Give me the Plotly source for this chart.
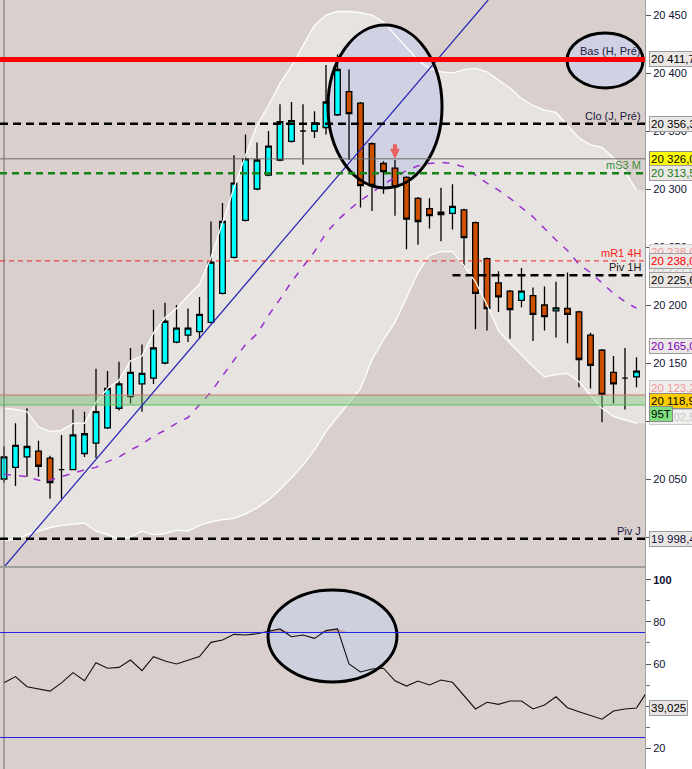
import plotly.graph_objects as go

FONT = "Liberation Sans, Arial, sans-serif"

# ---------------- data ----------------
candle_idx = list(range(56))
opens = [20050, 20060, 20069, 20074, 20068, 20058, 20058, 20072, 20081, 20094,
         20111, 20121, 20132, 20137, 20150, 20168, 20174, 20177, 20185, 20210,
         20241, 20273, 20300, 20312, 20325, 20341, 20350, 20350, 20353, 20364,
         20384, 20374, 20339, 20322, 20318, 20310, 20292, 20283, 20280, 20279,
         20282, 20271, 20240, 20219, 20212, 20204, 20208, 20200, 20195, 20197,
         20194, 20174, 20161, 20142, 20137, 20138]
highs = [20078, 20098, 20111, 20083, 20070, 20088, 20110, 20108, 20145, 20143,
         20151, 20163, 20166, 20196, 20202, 20200, 20197, 20207, 20272, 20288,
         20329, 20347, 20340, 20350, 20373, 20375, 20373, 20367, 20407, 20416,
         20403, 20375, 20340, 20324, 20325, 20311, 20293, 20292, 20301, 20304,
         20283, 20272, 20241, 20229, 20213, 20232, 20215, 20216, 20220, 20228,
         20195, 20176, 20162, 20156, 20163, 20155]
lows = [20047, 20044, 20052, 20052, 20033, 20033, 20058, 20069, 20068, 20093,
        20109, 20115, 20108, 20132, 20149, 20167, 20168, 20171, 20184, 20209,
        20240, 20272, 20299, 20311, 20324, 20340, 20321, 20344, 20347, 20363,
        20325, 20284, 20281, 20296, 20277, 20248, 20252, 20266, 20255, 20265,
        20233, 20179, 20178, 20194, 20171, 20198, 20169, 20178, 20172, 20167,
        20129, 20128, 20099, 20115, 20110, 20129]
closes = [20069, 20079, 20078, 20061, 20047, 20058, 20088, 20089, 20108, 20128,
          20132, 20142, 20141, 20163, 20186, 20180, 20180, 20192, 20237, 20272,
          20305, 20326, 20325, 20337, 20358, 20359, 20350, 20357, 20375, 20403,
          20365, 20303, 20303, 20315, 20302, 20274, 20272, 20277, 20278, 20285,
          20258, 20210, 20197, 20207, 20196, 20212, 20192, 20190, 20197.5, 20192,
          20153, 20148, 20123, 20132, 20137, 20143]

bb_upper = [20111, 20110, 20108, 20095, 20091, 20092, 20098, 20098, 20116, 20128,
            20135, 20152, 20156, 20176, 20189, 20197, 20208, 20218, 20241, 20272,
            20301, 20329, 20355, 20372, 20391, 20406, 20424, 20441, 20450, 20453,
            20453, 20452, 20450, 20444, 20433, 20422, 20411, 20404, 20401, 20400,
            20403, 20404, 20401, 20394, 20387, 20378, 20372, 20368, 20366, 20355,
            20344, 20338, 20336, 20327, 20315, 20299]
bb_mid = [20054, 20053, 20052, 20049, 20049, 20052, 20055, 20058, 20060, 20065,
          20069, 20075, 20080, 20087, 20092, 20098, 20103, 20114, 20125, 20139,
          20152, 20166, 20175, 20191, 20205, 20220, 20233, 20246, 20262, 20273,
          20282, 20290, 20297, 20304, 20310, 20316, 20320, 20322, 20323, 20322,
          20319, 20312, 20305, 20299, 20292, 20284, 20276, 20266, 20256, 20247,
          20235, 20228, 20219, 20210, 20203, 20197]
bb_lower = [19997, 19998, 20002, 20005, 20008, 20010, 20011, 20012, 20005, 20002,
            19998, 20000, 20005, 20002, 20003, 20006, 20005, 20010, 20013, 20015,
            20016, 20020, 20025, 20032, 20041, 20051, 20062, 20075, 20091, 20103,
            20115, 20128, 20153, 20170, 20185, 20206, 20228, 20243, 20246, 20246,
            20234, 20220, 20200, 20178, 20167, 20157, 20147, 20138, 20140, 20141,
            20134, 20122, 20111, 20104, 20101, 20098]

osc_idx = list(range(57))
osc = [51.1, 54.0, 49.2, 48.1, 47.1, 51.0, 55.9, 52.0, 60.6, 58.0,
       58.4, 61.9, 56.8, 63.5, 61.4, 60.0, 61.9, 63.5, 70.3, 71.4,
       74.1, 73.8, 74.4, 75.4, 76.7, 73.0, 73.8, 72.2, 75.9, 76.7,
       60.0, 56.2, 57.6, 58.0, 52.0, 49.5, 51.9, 50.0, 52.4, 51.3,
       44.8, 38.6, 41.8, 40.8, 42.4, 42.4, 38.6, 40.5, 44.4, 39.2,
       37.3, 35.4, 33.7, 37.6, 38.6, 39.025, 47.5]
osc_upper_level = 75
osc_lower_level = 25

price_ticks = [20000, 20050, 20100, 20150, 20200, 20250, 20300, 20350, 20400, 20450]
price_tick_labels = ["20 000", "20 050", "20 100", "20 150", "20 200",
                     "20 250", "20 300", "20 350", "20 400", "20 450"]
osc_ticks = [20, 40, 60, 80, 100]
osc_tick_labels = ["20", "40", "60", "80", "<b>100</b>"]

lvl_bas_h = 20411.7
lvl_clo_j = 20356.3
lvl_last = 20326.0
lvl_ms3 = 20313.5
lvl_mr1 = 20238.0
lvl_piv1h = 20225.6
lvl_zone_top = 20122.4
lvl_zone_bot = 20113.8
lvl_pivj = 19998.4

# ---------------- colours / ranges ----------------
BG_DARK = "#d9d0cd"
BG_BAND = "#e7e3e0"
LAV = "#d0d1e2"
X_RANGE = [-0.348, 55.74]
Y_RANGE = [19975.0, 20462.93]
Y2_RANGE = [10.0, 105.71]

E1 = (28.17, 38.09, 20300.9, 20441.4)
E2 = (48.96, 55.57, 20387.1, 20434.5)
E3 = (22.96, 34.17, 51.43, 95.24)

fig = go.Figure()
nohover = dict(hoverinfo="skip", showlegend=False)

# candles
fig.add_trace(go.Candlestick(
    x=candle_idx, open=opens, high=highs, low=lows, close=closes,
    increasing=dict(fillcolor="#00ffff", line=dict(color="black", width=1.3)),
    decreasing=dict(fillcolor="#cc5000", line=dict(color="black", width=1.3)),
    whiskerwidth=0, hoverinfo="skip", showlegend=False))
# band lines
fig.add_trace(go.Scatter(x=candle_idx, y=bb_upper, mode="lines",
                         line=dict(color="white", width=1.3), **nohover))
fig.add_trace(go.Scatter(x=candle_idx, y=bb_lower, mode="lines",
                         line=dict(color="white", width=1.3), **nohover))
# moving average
fig.add_trace(go.Scatter(x=candle_idx, y=bb_mid, mode="lines",
                         line=dict(color="#9a30d0", width=1.5, dash="7px,8px"), **nohover))

# ---- lower panel ----
fig.add_trace(go.Scatter(x=osc_idx, y=[osc_upper_level] * len(osc_idx), mode="lines",
                         line=dict(width=0, color="rgba(0,0,0,0)"),
                         xaxis="x2", yaxis="y2", **nohover))
fig.add_trace(go.Scatter(x=osc_idx, y=[max(v, osc_upper_level) for v in osc], mode="lines",
                         line=dict(width=0, color="rgba(0,0,0,0)"), fill="tonexty",
                         fillcolor="#c9a3a3", xaxis="x2", yaxis="y2", **nohover))
fig.add_trace(go.Scatter(x=osc_idx, y=osc, mode="lines",
                         line=dict(color="#111111", width=1.1),
                         xaxis="x2", yaxis="y2", **nohover))

# ---------------- shapes ----------------
shapes = []
# Bollinger band interior as a path below the traces (fill carried to the plot edges)
pts_up = ([f"{X_RANGE[0]},{bb_upper[0]}"] +
          [f"{i},{v}" for i, v in zip(candle_idx, bb_upper)] +
          [f"{X_RANGE[1]},{bb_upper[-1]}"])
pts_lo = ([f"{X_RANGE[1]},{bb_lower[-1]}"] +
          [f"{i},{v}" for i, v in zip(candle_idx[::-1], bb_lower[::-1])] +
          [f"{X_RANGE[0]},{bb_lower[0]}"])
band_path = "M " + " L ".join(pts_up + pts_lo) + " Z"
shapes.append(dict(type="path", xref="x", yref="y", path=band_path,
                   fillcolor=BG_BAND, line=dict(width=0), layer="below"))
for e in (E1, E2):
    shapes.append(dict(type="circle", xref="x", yref="y", x0=e[0], x1=e[1], y0=e[2], y1=e[3],
                       fillcolor=LAV, line=dict(width=0), layer="below"))
shapes.append(dict(type="circle", xref="x2", yref="y2", x0=E3[0], x1=E3[1], y0=E3[2], y1=E3[3],
                   fillcolor="#cfd0de", line=dict(width=0), layer="below"))
# session separator
shapes.append(dict(type="line", xref="x", yref="y domain", x0=0, x1=0, y0=0, y1=1,
                   line=dict(color="#6a6a6a", width=1), layer="above"))
shapes.append(dict(type="line", xref="x2", yref="y2 domain", x0=0, x1=0, y0=0, y1=1,
                   line=dict(color="#6a6a6a", width=1), layer="above"))
# green zone
shapes.append(dict(type="rect", xref="x domain", yref="y", x0=0, x1=1,
                   y0=lvl_zone_bot, y1=lvl_zone_top, fillcolor="rgba(110,200,110,0.38)",
                   line=dict(width=0), layer="above"))
shapes.append(dict(type="line", xref="x domain", yref="y", x0=0, x1=1,
                   y0=lvl_zone_top, y1=lvl_zone_top, line=dict(color="#d27070", width=1)))
shapes.append(dict(type="line", xref="x domain", yref="y", x0=0, x1=1,
                   y0=lvl_zone_bot, y1=lvl_zone_bot, line=dict(color="#5cc05c", width=1)))
# trend line
shapes.append(dict(type="line", xref="x", yref="y", x0=0.087, y0=Y_RANGE[0],
                   x1=42.1, y1=Y_RANGE[1], line=dict(color="#2424b4", width=1.2)))
# ellipse outlines
for e in (E1, E2):
    shapes.append(dict(type="circle", xref="x", yref="y", x0=e[0], x1=e[1], y0=e[2], y1=e[3],
                       line=dict(color="black", width=3), fillcolor="rgba(0,0,0,0)"))
shapes.append(dict(type="circle", xref="x2", yref="y2", x0=E3[0], x1=E3[1], y0=E3[2], y1=E3[3],
                   line=dict(color="black", width=3), fillcolor="rgba(0,0,0,0)"))

def hline(y, color, width, dash="solid", x0=None):
    if x0 is None:
        return dict(type="line", xref="x domain", yref="y", x0=0, x1=1, y0=y, y1=y,
                    line=dict(color=color, width=width, dash=dash))
    return dict(type="line", xref="x", yref="y", x0=x0, x1=X_RANGE[1], y0=y, y1=y,
                line=dict(color=color, width=width, dash=dash))

shapes.append(hline(lvl_last, "#6c6c6c", 1))
shapes.append(hline(lvl_mr1, "#ee2020", 1, "5px,4px"))
shapes.append(hline(lvl_clo_j, "black", 2.5, "8px,5px"))
shapes.append(hline(lvl_ms3, "#178417", 2.5, "7px,5px"))
shapes.append(hline(lvl_piv1h, "black", 2.5, "8px,5px", x0=39.0))
shapes.append(hline(lvl_pivj, "black", 2.5, "8px,5px"))
shapes.append(hline(lvl_bas_h, "#ff0000", 5))
for lv in (osc_upper_level, osc_lower_level):
    shapes.append(dict(type="line", xref="x2 domain", yref="y2", x0=0, x1=1, y0=lv, y1=lv,
                       line=dict(color="#2020e8", width=1)))

# ---------------- annotations ----------------
ann = []
def tag(text, y, color, yshift=0):
    ann.append(dict(xref="paper", x=1, xanchor="right", xshift=-2, yref="y", y=y,
                    yanchor="bottom", yshift=yshift, text=text, showarrow=False,
                    font=dict(family=FONT, size=11, color=color)))
tag("Bas (H, Pré)", lvl_bas_h, "#1a1a40", 0)
tag("Clo (J, Pré)", lvl_clo_j, "#1a1a40")
tag("mS3 M", lvl_ms3, "#3a8c3a")
tag("mR1 4H", lvl_mr1, "#ff1a1a")
tag("Piv 1H", lvl_piv1h, "#202020")
tag("Piv J", lvl_pivj, "#1a1a40")

def box(text, y, color="#000000", bg="#ebe7e5", border="#9c9c9c", yref="y", yshift=0):
    ann.append(dict(xref="paper", x=1, xanchor="left", xshift=4, yref=yref, y=y,
                    yanchor="middle", yshift=yshift, text=text, showarrow=False, align="left",
                    font=dict(family=FONT, size=11.5, color=color),
                    bgcolor=bg, bordercolor=border, borderwidth=1, borderpad=1))
box("20 238,0", 20245.7, "#f09a9a", "#f1eded", "#cfc8c8")
box("20 227,0", 20230.2, "#c8c8c8", "#f1efee", "#cfcaca")
box("20 123,2", 20128.5, "#f09a9a", "#f1eded", "#cfc8c8")
box("20 102,5", 20103.4, "#c8c8c8", "#f1efee", "#cfcaca")
box("20 411,7", lvl_bas_h)
box("20 356,3", lvl_clo_j)
box("20 326,0", lvl_last, "#000000", "#ffff00", "#8a8a8a")
box("20 313,5", lvl_ms3, "#1a7a1a")
box("20 238,0", lvl_mr1, "#ff0000")
box("20 225,6", lvl_piv1h, yshift=-5)
box("20 165,0", 20165.0, "#8000c0")
box("20 118,9", 20118.9, "#000000", "#ffcc00", "#8a8a8a", yshift=-2)
box("95T", 20106.0, "#000000", "#7fe07f", "#8a8a8a")
box("19 998,4", lvl_pivj, "#101040")
box("39,025", osc[55], "#000000", "#e8e3e1", "#9c9c9c", yref="y2")

# red arrow above candle 34
ann.append(dict(x=34, y=20326, xref="x", yref="y", ax=0, ay=-16, text="",
                showarrow=True, arrowhead=2, arrowsize=0.5, arrowwidth=4,
                arrowcolor="#e86060"))

fig.update_layout(
    width=692, height=769,
    margin=dict(l=0, r=47, t=0, b=0),
    paper_bgcolor="white", plot_bgcolor=BG_DARK,
    showlegend=False, hovermode=False,
    font=dict(family=FONT),
    xaxis=dict(domain=[0, 1], range=X_RANGE, anchor="y", showticklabels=False,
               showgrid=False, zeroline=False, showline=True, linecolor="#a0a0a0",
               ticks="", rangeslider=dict(visible=False)),
    yaxis=dict(domain=[1 - 566 / 769, 1], range=Y_RANGE, anchor="x", side="right",
               tickvals=price_ticks, ticktext=price_tick_labels, ticks="outside",
               ticklen=5, tickcolor="#555555", showgrid=False, zeroline=False,
               showline=True, linecolor="#a0a0a0", automargin=False,
               tickfont=dict(family=FONT, size=11, color="#101030")),
    xaxis2=dict(domain=[0, 1], range=X_RANGE, anchor="y2", showticklabels=False,
                showgrid=False, zeroline=False, showline=True, mirror=True,
                linecolor="#a0a0a0", ticks=""),
    yaxis2=dict(domain=[0, 1 - 568 / 769], range=Y2_RANGE, anchor="x2", side="right",
                tickvals=osc_ticks, ticktext=osc_tick_labels, ticks="outside",
                ticklen=5, tickcolor="#555555", showgrid=False, zeroline=False,
                showline=True, linecolor="#a0a0a0", automargin=False,
                minor=dict(tickmode="linear", tick0=0, dtick=10, ticklen=4,
                           ticks="outside", tickcolor="#777777"),
                tickfont=dict(family=FONT, size=11, color="#101030")),
    shapes=shapes, annotations=ann,
)

fig.write_html("out.html", config={"displayModeBar": False},
               post_script="document.body.style.margin='0px';")
